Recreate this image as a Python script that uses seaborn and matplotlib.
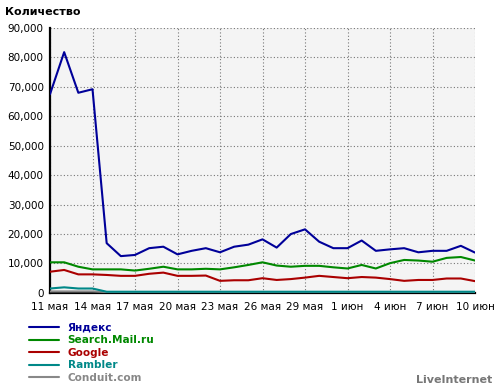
import numpy as np
import pandas as pd
import matplotlib
matplotlib.use("Agg")
import matplotlib.pyplot as plt
from matplotlib.lines import Line2D
from matplotlib.ticker import FuncFormatter
import seaborn as sns

# ---- data ----
days = list(range(31))  # 11 May .. 10 June
tick_days = [0, 3, 6, 9, 12, 15, 18, 21, 24, 27, 30]
tick_labels = ["11 мая", "14 мая", "17 мая", "20 мая", "23 мая", "26 мая",
               "29 мая", "1 июн", "4 июн", "7 июн", "10 июн"]
yticks = [0, 10000, 20000, 30000, 40000, 50000, 60000, 70000, 80000, 90000]

series_names = ["Яндекс", "Search.Mail.ru", "Google", "Rambler", "Conduit.com"]
yandex = [67500, 81800, 68000, 69200, 16900, 12500, 12900, 15200, 15700, 13100,
          14300, 15200, 13800, 15700, 16400, 18200, 15400, 20000, 21600, 17400,
          15200, 15200, 17800, 14300, 14800, 15200, 13800, 14300, 14300, 16000, 13700]
mail = [10400, 10400, 8900, 8000, 8000, 8000, 7600, 8200, 8900, 8000,
        8000, 8200, 8000, 8700, 9500, 10400, 9300, 8900, 9200, 9200,
        8700, 8300, 9500, 8300, 10100, 11200, 11000, 10600, 11900, 12200, 11000]
google = [7200, 7800, 6300, 6300, 6100, 5800, 5800, 6500, 6900, 5800,
          5800, 5900, 4100, 4300, 4300, 5000, 4400, 4700, 5200, 5800,
          5400, 5000, 5400, 5200, 4700, 4100, 4400, 4400, 4900, 4900, 4000]
rambler = [1500, 1900, 1500, 1500, 400, 400, 400, 400, 400, 400,
           400, 400, 400, 400, 400, 400, 400, 400, 400, 400,
           400, 400, 400, 400, 400, 400, 400, 400, 400, 400, 400]
conduit = [500, 500, 500, 500, 300, 300, 300, 300, 300, 300,
           300, 300, 300, 300, 300, 300, 300, 300, 300, 300,
           300, 300, 300, 300, 300, 300, 300, 300, 300, 300, 300]

colors = ["#000099", "#008800", "#aa0000", "#008888", "#888888"]

values = [yandex, mail, google, rambler, conduit]
df = pd.concat([pd.DataFrame({"day": days, "value": v, "series": n})
                for n, v in zip(series_names, values)], ignore_index=True)
palette = dict(zip(series_names, colors))

# ---- figure ----
sns.set_style("white", {"axes.facecolor": "#f4f4f4"})
plt.rcParams['font.family'] = ['DejaVu Sans']

fig = plt.figure(figsize=(5.0, 3.89), dpi=100)
ax = fig.add_axes([0.100, 0.247, 0.850, 0.681])

draw_order = list(reversed(series_names))
sns.lineplot(data=df, x="day", y="value", hue="series", hue_order=draw_order,
             palette=palette, linewidth=1.5, legend=False, ax=ax)
for ln in ax.lines:
    ln.set_zorder(6)

ax.set_xlim(0, 30)
ax.set_ylim(0, 90000)
ax.set_xticks(tick_days)
ax.set_xticklabels(tick_labels)
ax.set_yticks(yticks)
ax.yaxis.set_major_formatter(FuncFormatter(lambda v, p: f"{int(v):,}"))
ax.set_xlabel("")
ax.set_ylabel("")

ax.grid(True, which="major", color="#777777", linestyle=(0, (1, 2)), linewidth=0.8)
ax.set_axisbelow(True)
for s in ["top", "right"]:
    ax.spines[s].set_visible(False)
for s in ["left", "bottom"]:
    ax.spines[s].set_color("black")
    ax.spines[s].set_linewidth(1.6)
    ax.spines[s].set_zorder(5)

ax.tick_params(axis="both", which="major", length=2.5, width=1, color="black",
               labelsize=7.5, labelcolor="black", pad=2)
ax.tick_params(axis="x", pad=4)

fig.text(0.01, 0.968, "Количество", fontsize=8, fontweight="bold",
         ha="left", va="center", color="black")

handles = [Line2D([], [], color=c, linewidth=1.5) for c in colors]
leg = fig.legend(handles, series_names, loc="upper left",
                 bbox_to_anchor=(0.058, 0.170), frameon=False,
                 prop={"size": 7.6, "weight": "bold"}, labelspacing=0.24,
                 handlelength=2.8, handletextpad=0.85, borderpad=0,
                 borderaxespad=0)
for t, c in zip(leg.get_texts(), colors):
    t.set_color(c)

fig.text(0.984, 0.024, "LiveInternet", fontsize=8, fontweight="bold",
         ha="right", va="center", color="#777777")

fig.savefig("out.png", dpi=100)
